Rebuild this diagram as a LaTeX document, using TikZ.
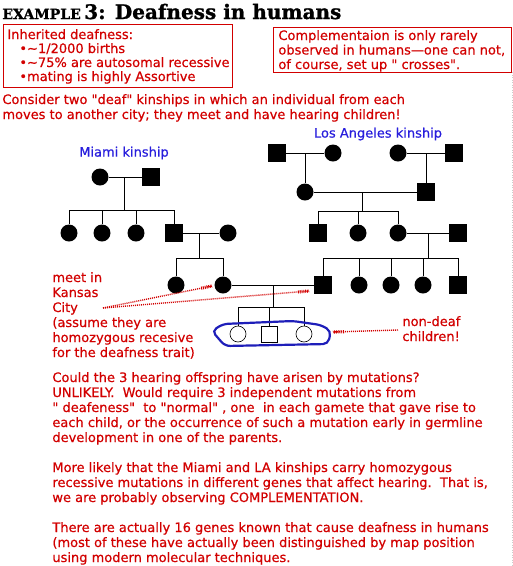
\documentclass[tikz,border=0pt]{standalone}
\usepackage{fontspec}
\setmainfont{DejaVu Sans}
\newfontfamily\redfont{DejaVu Sans}[FakeBold=0.6]
\newfontfamily\titlefont{DejaVu Serif}[FakeBold=1.2]
\usetikzlibrary{positioning,calc}
\definecolor{txtred}{RGB}{210,0,0}
\definecolor{kinblue}{RGB}{40,30,220}
\definecolor{ringblue}{RGB}{30,30,185}
\tikzset{
  fem/.style={circle,fill=black,minimum size=17pt,inner sep=0pt},
  mal/.style={rectangle,fill=black,minimum size=18pt,inner sep=0pt},
  ofem/.style={circle,draw=black,line width=.6pt,minimum size=16pt,inner sep=0pt},
  omal/.style={rectangle,draw=black,line width=.6pt,minimum size=16pt,inner sep=0pt},
  redtxt/.style={anchor=base west,align=left,inner sep=0pt,text=txtred,font=\redfont\fontsize{13}{15}\selectfont},
  kinlabel/.style={inner sep=0pt,text=kinblue,font=\redfont\fontsize{13}{15}\selectfont},
  redbox/.style={draw=txtred,line width=.8pt},
  pointer/.style={draw=txtred,line width=1.4pt,dash pattern=on 1pt off 1pt},
  hatch/.style={draw=txtred,line width=3.2pt,dash pattern=on .8pt off 1pt}
}
\begin{document}
\begin{tikzpicture}[x=1pt,y=-1pt,line width=.8pt]
\useasboundingbox (0,0) rectangle (513,566);
\draw[gray!40,dotted,line width=.5pt] (512,72)--(512,566);
% title and boxes (multi-line nodes sit on their last baseline)
\node[anchor=base west,inner sep=0pt,font=\titlefont\bfseries] (title) at (2,19){{\fontsize{14}{14}\selectfont EXAMPLE} {\fontsize{20}{20}\selectfont 3: Deafness in humans}};
\draw[redbox] (3,24) rectangle (232,87);
\node[redtxt] (inh) at (7,39){Inherited deafness:};
\foreach \y/\t in {53/{•\textasciitilde1/2000 births},67/{•\textasciitilde75\% are autosomal recessive},81/{•mating is highly Assortive}}
  \node[redtxt] (b\y) at (19,\y){\t};
\draw[redbox] (273,27) rectangle (511,72);
\node[redtxt,font=\redfont\fontsize{13}{14.5}\selectfont] (compl) at (278,69){Complementaion is only rarely\\observed in humans—one can not,\\of course, set up \textquotedbl\ crosses\textquotedbl.};
\node[redtxt] (cons) at (2,119){Consider two \textquotedbl deaf\textquotedbl\ kinships in which an individual from each\\moves to another city; they meet and have hearing children!};
\node[kinlabel] (lalab) at (378,134){Los Angeles kinship};
\node[kinlabel] (milab) at (124,153){Miami kinship};
% Miami kinship
\node[fem] (m1) at (100,177){}; \node[mal] (m2) at (151,177){}; \draw (m1)--(m2);
\coordinate (mj1) at (124,177); \coordinate (ms1) at (124,210); \draw (mj1)--(ms1);
\node[fem] (m3) at (69,233){}; \node[fem] (m4) at (102,233){}; \node[fem] (m5) at (136,233){}; \node[mal] (m6) at (174,233){};
\draw (m3|-ms1)--(m6|-ms1); \foreach \n in {m3,m4,m5,m6}\draw (\n|-ms1)--(\n);
\node[fem] (m7) at (228,233){}; \draw (m6)--(m7);
\coordinate (mj2) at (199,233); \coordinate (ms2) at (199,258); \draw (mj2)--(ms2);
\node[fem] (m8) at (176,285){}; \node[fem] (m9) at (223,285){};
\draw (m8|-ms2)--(m9|-ms2); \foreach \n in {m8,m9}\draw (\n|-ms2)--(\n);
% Los Angeles kinship
\node[mal] (l1) at (277,153){}; \node[fem] (l2) at (333,153){}; \draw (l1)--(l2);
\node[fem] (l3) at (398,153){}; \node[mal] (l4) at (454,153){}; \draw (l3)--(l4);
\node[fem] (l5) at (305,192){}; \node[mal] (l6) at (426,192){}; \draw (l5)--(l6);
\draw (l5|-l1)--(l5); \draw (l6|-l3)--(l6);
\coordinate (lj1) at (362,192); \coordinate (ls1) at (362,211); \draw (lj1)--(ls1);
\node[mal] (l7) at (318,233){}; \node[fem] (l8) at (358,233){}; \node[fem] (l9) at (398,233){};
\draw (l7|-ls1)--(l9|-ls1); \foreach \n in {l7,l8,l9}\draw (\n|-ls1)--(\n);
\node[mal] (l10) at (458,233){}; \draw (l9)--(l10);
\coordinate (lj2) at (428,233); \coordinate (ls2) at (428,258); \draw (lj2)--(ls2);
\node[mal] (l11) at (323,285){}; \node[fem] (l12) at (359,285){}; \node[fem] (l13) at (391,285){}; \node[fem] (l14) at (423,285){}; \node[mal] (l15) at (458,285){};
\draw (l11|-ls2)--(l15|-ls2); \foreach \n in {l11,l12,l13,l14,l15}\draw (\n|-ls2)--(\n);
% Kansas City children
\draw (m9)--(l11);
\coordinate (kj) at (273,285); \coordinate (ks) at (273,307); \draw (kj)--(ks);
\node[ofem] (k1) at (238,334){}; \node[omal] (k2) at (269,334){}; \node[ofem] (k3) at (304,334){};
\draw (k1|-ks)--(k3|-ks); \foreach \n in {k1,k2,k3}\draw (\n|-ks)--(\n);
\draw[ringblue,line width=2.2pt,rounded corners=5pt] (212,331)--(223,324)--(293,321)--(321,325)--(331,331)--(328,344)--(225,346)--cycle;
% labels and pointers
\node[redtxt] (meet) at (52,357){meet in\\Kansas\\City\\(assume they are\\homozygous recesive\\for the deafness trait)};
\node[redtxt] (nondeaf) at (402,341){non-deaf\\children!};
\coordinate (kc) at (103,308); \coordinate (p1) at (212,286); \coordinate (p2) at (309,291);
\coordinate (nd) at (398,330); \coordinate (p3) at (333,332);
\draw[pointer] (kc)--(p1); \draw[hatch] ($(p1)!11pt!(kc)$)--(p1);
\draw[pointer] (kc)--(p2); \draw[hatch] ($(p2)!11pt!(kc)$)--(p2);
\draw[pointer] (nd)--(p3); \draw[hatch] ($(p3)!11pt!(nd)$)--(p3);
% discussion
\node[redtxt] (para1) at (52,442){Could the 3 hearing offspring have arisen by mutations?\\UNLIKELY.\ \ Would require 3 independent mutations from\\\textquotedbl\ deafeness\textquotedbl\ \ to \textquotedbl normal\textquotedbl\ , one\ \ in each gamete that gave rise to\\each child, or the occurrence of such a mutation early in germline\\development in one of the parents.};
\node[redtxt] (para2) at (52,502){More likely that the Miami and LA kinships carry homozygous\\recessive mutations in different genes that affect hearing.\ \ That is,\\we are probably observing COMPLEMENTATION.};
\node[redtxt] (para3) at (52,562){There are actually 16 genes known that cause deafness in humans\\(most of these have actually been distinguished by map position\\using modern molecular techniques.};
\end{tikzpicture}
\end{document}
